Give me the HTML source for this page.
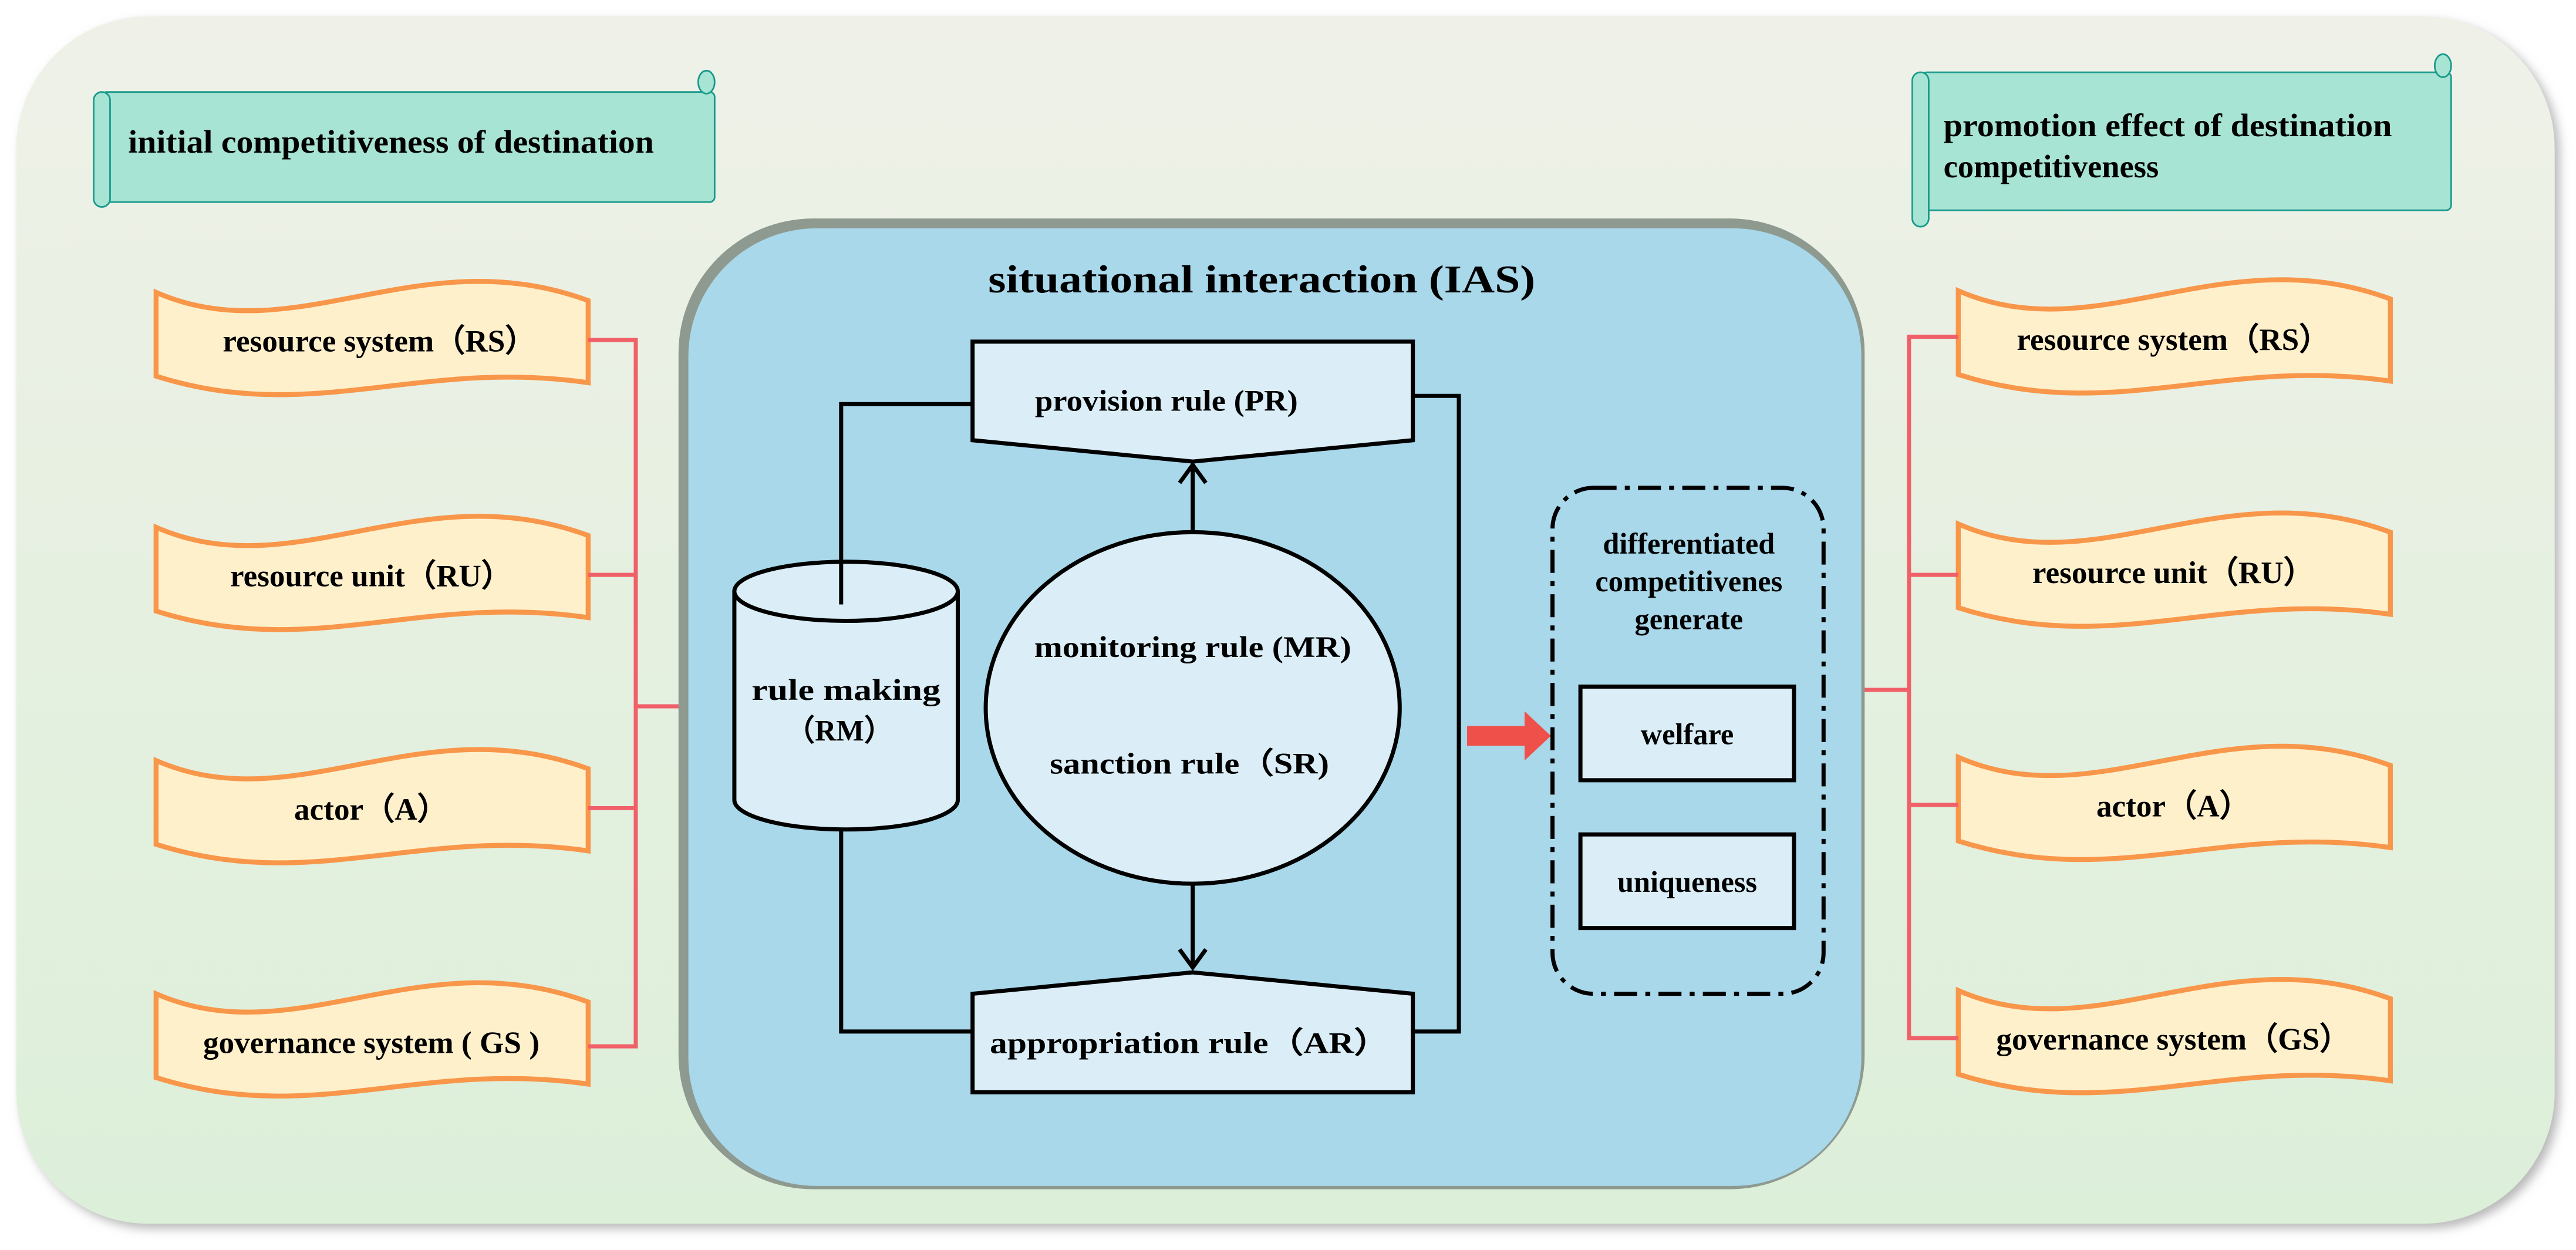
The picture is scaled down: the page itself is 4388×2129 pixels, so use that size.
<!DOCTYPE html>
<html><head><meta charset="utf-8"><style>
html,body{margin:0;padding:0;background:#fff;}
svg{display:block;}
text{font-family:"Liberation Serif",serif;font-weight:bold;fill:#000;}
</style></head><body>
<svg width="4388" height="2129" viewBox="0 0 1568 761" preserveAspectRatio="none" xmlns="http://www.w3.org/2000/svg">
<defs>
<linearGradient id="bg" x1="0" y1="0" x2="0" y2="1">
<stop offset="0" stop-color="#eff1e8"/><stop offset="1" stop-color="#dcefd9"/>
</linearGradient>
<filter id="sh" x="-5%" y="-5%" width="110%" height="110%"><feDropShadow dx="3" dy="3" stdDeviation="3" flood-color="#888" flood-opacity="0.6"/></filter>
<path id="ban" d="M0,5 C85,42 160,-28 263,10 L263,60 C160,45 95,86 0,56 Z"/>
</defs>
<rect x="0" y="0" width="1568" height="761" fill="#fff"/>
<rect x="10" y="10" width="1545" height="735" rx="80" fill="url(#bg)" filter="url(#sh)"/>

<g stroke="#1a9a8c" stroke-width="1" fill="#a8e4d4">
<rect x="62" y="56" width="373" height="67" rx="3"/>
<rect x="57" y="56" width="10" height="70" rx="5"/>
<ellipse cx="430" cy="50" rx="5" ry="7"/>
<rect x="1170" y="44" width="322" height="84" rx="3"/>
<rect x="1164" y="44" width="10" height="94" rx="5"/>
<ellipse cx="1487" cy="40" rx="5" ry="7"/>
</g>
<text x="78" y="93" font-size="19.5" textLength="320" lengthAdjust="spacingAndGlyphs">initial competitiveness of destination</text>
<text x="1183" y="83" font-size="19.5" textLength="273" lengthAdjust="spacingAndGlyphs">promotion effect of destination</text>
<text x="1183" y="108" font-size="19.5">competitiveness</text>

<g fill="#fff0cc" stroke="#f8964a" stroke-width="3">
<use href="#ban" x="95" y="173"/><use href="#ban" x="95" y="316"/><use href="#ban" x="95" y="458"/><use href="#ban" x="95" y="600"/>
<use href="#ban" x="1192" y="172"/><use href="#ban" x="1192" y="314"/><use href="#ban" x="1192" y="456"/><use href="#ban" x="1192" y="598"/>
</g>
<g font-size="19" text-anchor="middle">
<text x="231" y="214">resource system（RS）</text>
<text x="226" y="357">resource unit（RU）</text>
<text x="226" y="499">actor（A）</text>
<text x="226" y="641">governance system ( GS )</text>
<text x="1323" y="213">resource system（RS）</text>
<text x="1323" y="355">resource unit（RU）</text>
<text x="1323" y="497">actor（A）</text>
<text x="1323" y="639">governance system（GS）</text>
</g>

<g stroke="#f06068" stroke-width="2.5" fill="none">
<path d="M358,207 H387 V637 H358 M358,350 H387 M358,492 H387 M387,430 H418"/>
<path d="M1192,205 H1162 V632 H1192 M1162,350 H1192 M1162,490 H1192 M1133,420 H1162"/>
</g>

<rect x="413" y="133" width="722" height="591" rx="82" fill="#8e9a90"/>
<rect x="419" y="139" width="714" height="583" rx="78" fill="#a8d8ea"/>
<text x="768" y="178" font-size="24" text-anchor="middle" textLength="333" lengthAdjust="spacingAndGlyphs">situational interaction (IAS)</text>

<g stroke="#000" stroke-width="2.5" fill="#dbeef7">
<path d="M592,208 H860 V268 L726,281 L592,268 Z"/>
<path d="M592,605 L726,592 L860,605 V665 H592 Z"/>
<path d="M447,360 V487 A68,18 0 0 0 583,487 V360"/>
<ellipse cx="515" cy="360" rx="68" ry="18"/>
<ellipse cx="726" cy="431" rx="126" ry="107"/>
</g>
<g stroke="#000" stroke-width="2.5" fill="none">
<path d="M512,368 V246 H592"/>
<path d="M512,505 V628 H592"/>
<path d="M860,241 H888 V628 H860"/>
<path d="M726,323 V284 M718,294 L726,283 L734,294"/>
<path d="M726,538 V589 M718,578 L726,589 L734,578"/>
</g>
<g font-size="18" text-anchor="middle">
<text x="710" y="250" textLength="160" lengthAdjust="spacingAndGlyphs">provision rule (PR)</text>
<text x="724" y="641" textLength="243" lengthAdjust="spacingAndGlyphs">appropriation rule（AR）</text>
<text x="515" y="426" textLength="115" lengthAdjust="spacingAndGlyphs">rule making</text>
<text x="511" y="451">（RM）</text>
<text x="726" y="400" textLength="193" lengthAdjust="spacingAndGlyphs">monitoring rule (MR)</text>
<text x="724" y="471" textLength="170" lengthAdjust="spacingAndGlyphs">sanction rule（SR)</text>
</g>

<path d="M893,442 H928 V433 L944,448 L928,463 V454 H893 Z" fill="#f0504a"/>

<rect x="945" y="297" width="165" height="308" rx="25" fill="none" stroke="#000" stroke-width="2.5" stroke-dasharray="14,5,3,5"/>
<g font-size="18" text-anchor="middle">
<text x="1028" y="337">differentiated</text>
<text x="1028" y="360">competitivenes</text>
<text x="1028" y="383">generate</text>
</g>
<g stroke="#000" stroke-width="2.5" fill="#dbeef7">
<rect x="962" y="418" width="130" height="57"/>
<rect x="962" y="508" width="130" height="57"/>
</g>
<g font-size="18" text-anchor="middle">
<text x="1027" y="453">welfare</text>
<text x="1027" y="543">uniqueness</text>
</g>
</svg>
</body></html>
